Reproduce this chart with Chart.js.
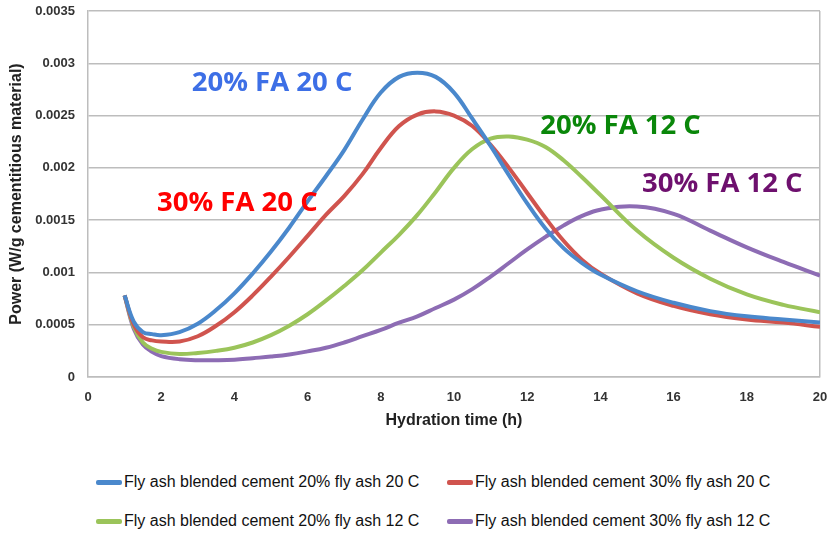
<!DOCTYPE html>
<html>
<head>
<meta charset="utf-8">
<script src="https://cdn.jsdelivr.net/npm/chart.js@4.4.1/dist/chart.umd.min.js"></script>
<style>
  html, body { margin: 0; padding: 0; background: #fff; }
  #wrap { position: relative; width: 828px; height: 534px; }
  #chartBox { position: absolute; left: 0; top: 0; width: 828px; height: 450px; }
  #legend { position: absolute; left: 0; top: 450px; width: 828px; height: 84px;
            font-family: "Liberation Sans", Arial, sans-serif; font-size: 16px; color: #111; }
  .item { position: absolute; display: flex; align-items: center; white-space: nowrap; }
  .swatch { width: 26px; height: 5px; border-radius: 2px; margin-right: 2px; }
</style>
</head>
<body>
<div id="wrap">
  <div id="chartBox"><canvas id="heatChart"></canvas></div>
  <div id="legend"></div>
</div>
<script>
// hydration time (h) and heat flow for each mix (W/g cementitious material)
const hours = [1, 1.25, 1.5, 1.75, 2, 2.5, 3, 3.5, 4, 4.5, 5, 5.5, 6, 6.5, 7, 7.5, 8, 8.5, 9, 9.5, 10, 10.5, 11, 11.5, 12, 12.5, 13, 13.5, 14, 15, 16, 17, 18, 19, 20];

const fa20at20 = [0.00078, 0.00053, 0.00043, 0.00041, 0.0004, 0.00043, 0.00051, 0.00064, 0.0008, 0.00099, 0.0012, 0.00143, 0.00168, 0.00192, 0.00217, 0.00246, 0.00272, 0.00287, 0.00291, 0.00287, 0.00272, 0.00247, 0.00221, 0.00193, 0.00166, 0.00142, 0.00123, 0.00109, 0.00098, 0.00082, 0.00071, 0.00063, 0.00058, 0.00055, 0.00052];
const fa30at20 = [0.00078, 0.0005, 0.00038, 0.00035, 0.00034, 0.00034, 0.00039, 0.00049, 0.00062, 0.00078, 0.00096, 0.00115, 0.00135, 0.00155, 0.00173, 0.00194, 0.00219, 0.0024, 0.00251, 0.00254, 0.0025, 0.0024, 0.00222, 0.002, 0.00176, 0.00152, 0.0013, 0.00112, 0.00099, 0.0008, 0.00068, 0.0006, 0.00055, 0.00052, 0.00048];
const fa20at12 = [0.00078, 0.00048, 0.00033, 0.00027, 0.00024, 0.00022, 0.00023, 0.00025, 0.00028, 0.00033, 0.0004, 0.00049, 0.0006, 0.00073, 0.00087, 0.00102, 0.00119, 0.00136, 0.00155, 0.00177, 0.002, 0.00218, 0.00228, 0.0023, 0.00227, 0.0022, 0.00207, 0.00191, 0.00174, 0.0014, 0.00114, 0.00094, 0.00079, 0.00069, 0.00062];
const fa30at12 = [0.00078, 0.00046, 0.00031, 0.00024, 0.0002, 0.00017, 0.00016, 0.00016, 0.000165, 0.00018, 0.000195, 0.000215, 0.000245, 0.00028, 0.00033, 0.00039, 0.00045, 0.00052, 0.00058, 0.00066, 0.00074, 0.00084, 0.00096, 0.00109, 0.00122, 0.00134, 0.00145, 0.00154, 0.0016, 0.00163, 0.00156, 0.0014, 0.00124, 0.0011, 0.00097];

const seriesNames = [
  'Fly ash blended cement 20% fly ash 20 C',
  'Fly ash blended cement 30% fly ash 20 C',
  'Fly ash blended cement 20% fly ash 12 C',
  'Fly ash blended cement 30% fly ash 12 C'
];
const seriesValues = [fa20at20, fa30at20, fa20at12, fa30at12];
const seriesColors = ['#4a88cc', '#d0544e', '#9bc45a', '#8d6cb4'];

// in-plot callouts
const calloutText = ['20% FA 20 C', '30% FA 20 C', '20% FA 12 C', '30% FA 12 C'];
const calloutAt = [[5.03, 0.00281], [4.08, 0.00166], [14.55, 0.0024], [17.33, 0.00184]];
const calloutColors = ['#3d6fe6', '#ff0000', '#0a870a', '#6e106e'];

const calloutPlugin = {
  id: 'callouts',
  afterDatasetsDraw(chart) {
    const { ctx, scales: { x, y } } = chart;
    ctx.save();
    ctx.font = 'bold 27.5px "Open Sans", sans-serif';
    ctx.textAlign = 'center';
    ctx.textBaseline = 'middle';
    calloutText.forEach((t, i) => {
      ctx.fillStyle = calloutColors[i];
      ctx.fillText(t, x.getPixelForValue(calloutAt[i][0]), y.getPixelForValue(calloutAt[i][1]));
    });
    ctx.restore();
  }
};

const tickFont = { family: '"Liberation Sans", Arial, sans-serif', size: 13, weight: 'bold' };
const titleFont = { family: '"Liberation Sans", Arial, sans-serif', size: 16, weight: 'bold' };
const gridGray = '#bdbdbd';

new Chart(document.getElementById('heatChart'), {
  type: 'line',
  data: {
    datasets: seriesNames.map((name, i) => ({
      label: name,
      data: hours.map((h, j) => ({ x: h, y: seriesValues[i][j] })),
      borderColor: seriesColors[i],
      backgroundColor: seriesColors[i],
      borderWidth: 4,
      pointRadius: 0,
      tension: 0.4,
      fill: false
    }))
  },
  options: {
    responsive: true,
    maintainAspectRatio: false,
    animation: false,
    layout: { padding: { top: 11, right: 8, left: 0, bottom: 0 } },
    plugins: { legend: { display: false }, tooltip: { enabled: false } },
    scales: {
      x: {
        type: 'linear',
        min: 0,
        max: 20,
        ticks: { stepSize: 2, color: '#333', font: tickFont, padding: 13 },
        grid: {
          drawTicks: false,
          lineWidth: 1.5,
          color: c => (c.tick && c.tick.value === 20 ? gridGray : 'rgba(0,0,0,0)')
        },
        border: { color: gridGray, width: 1.5 },
        title: {
          display: true,
          text: 'Hydration time (h)',
          color: '#222',
          font: titleFont,
          padding: { top: 0, bottom: 20 }
        },
        afterFit: s => { s.height = 73; s.paddingLeft = 0; s.paddingRight = 0; }
      },
      y: {
        min: 0,
        max: 0.0035,
        ticks: {
          stepSize: 0.0005,
          color: '#333',
          font: tickFont,
          padding: 13,
          callback: v => String(parseFloat(v.toFixed(4)))
        },
        grid: { drawTicks: false, color: gridGray, lineWidth: 1.5 },
        border: { color: gridGray, width: 1.5 },
        title: {
          display: true,
          text: 'Power (W/g cementitious material)',
          color: '#222',
          font: titleFont,
          padding: { top: 7, bottom: 0 }
        },
        afterFit: s => { s.width = 88; s.paddingTop = 0; s.paddingBottom = 0; }
      }
    }
  },
  plugins: [calloutPlugin]
});

// two-column legend under the plot
const legendSpots = [[96, 33], [447, 33], [96, 72], [447, 72]];
const legendBox = document.getElementById('legend');
seriesNames.forEach((name, i) => {
  const item = document.createElement('div');
  item.className = 'item';
  item.style.left = legendSpots[i][0] + 'px';
  item.style.top = (legendSpots[i][1] - 10) + 'px';
  const sw = document.createElement('span');
  sw.className = 'swatch';
  sw.style.background = seriesColors[i];
  const txt = document.createElement('span');
  txt.textContent = name;
  item.appendChild(sw);
  item.appendChild(txt);
  legendBox.appendChild(item);
});
</script>
</body>
</html>
